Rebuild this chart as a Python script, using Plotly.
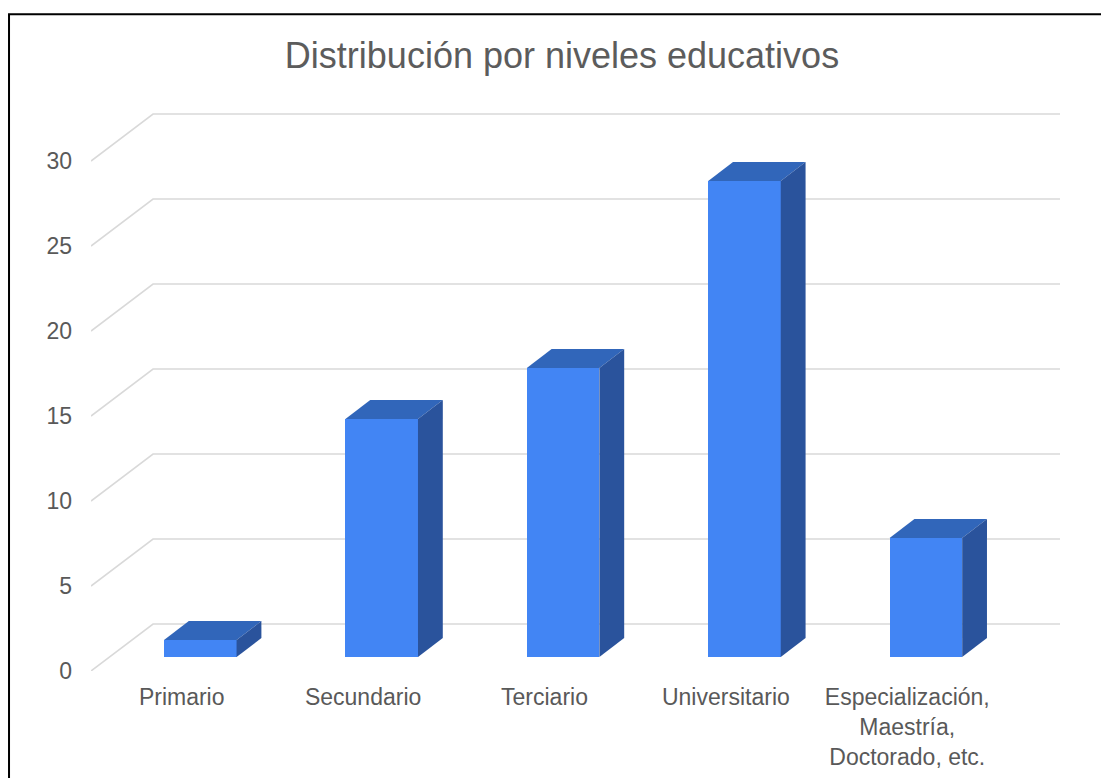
import plotly.graph_objects as go

# ---- data ----
categories = ["Primario", "Secundario", "Terciario", "Universitario",
              "Especialización,<br>Maestría,<br>Doctorado, etc."]
values = [1, 14, 17, 28, 7]
y_ticks = [0, 5, 10, 15, 20, 25, 30]
title_text = "Distribución por niveles educativos"

# ---- 3D projection settings (axis units) ----
DDX = 0.342      # x shift for full depth (category units)
DDY = 2.765      # y shift for full depth (value units)
D0, D1 = 0.3, 0.7  # bar depth span
BW = 0.40        # bar width

FRONT = "#4285F4"
TOP = "#3166BA"
SIDE = "#2A539C"
GRID = "#d9d9d9"
TXT = "#595959"

fig = go.Figure()

# gridlines in perspective (front-left diagonal then back plane)
shapes = []
for v in y_ticks:
    shapes.append(dict(
        type="path", xref="x", yref="y", layer="below",
        path=f"M {-0.5} {v} L {-0.5 + DDX} {v + DDY} L {4.5 + DDX} {v + DDY}",
        line=dict(color=GRID, width=1.6)))

# outer black frame (extends beyond canvas on right/bottom)
shapes.append(dict(type="rect", xref="paper", yref="paper",
                   x0=-0.0846, x1=1.2, y0=-0.4, y1=1.1706,
                   line=dict(color="black", width=2), fillcolor="rgba(0,0,0,0)"))

xs = [i + D0 * DDX for i in range(len(values))]
base = D0 * DDY
dep = (D1 - D0)

# front faces
fig.add_trace(go.Bar(x=xs, y=values, base=[base] * len(values), width=BW,
                     marker=dict(color=FRONT, line=dict(width=0)),
                     hoverinfo="skip", showlegend=False))

# top and side faces
for x, v in zip(xs, values):
    xl, xr = x - BW / 2, x + BW / 2
    top = base + v
    tx = [xl, xr, xr + dep * DDX, xl + dep * DDX, xl]
    ty = [top, top, top + dep * DDY, top + dep * DDY, top]
    fig.add_trace(go.Scatter(x=tx, y=ty, fill="toself", fillcolor=TOP,
                             mode="lines", line=dict(width=0, color=TOP),
                             hoverinfo="skip", showlegend=False))
    sx = [xr, xr, xr + dep * DDX, xr + dep * DDX, xr]
    sy = [base, top, top + dep * DDY, base + dep * DDY, base]
    fig.add_trace(go.Scatter(x=sx, y=sy, fill="toself", fillcolor=SIDE,
                             mode="lines", line=dict(width=0, color=SIDE),
                             hoverinfo="skip", showlegend=False))

fig.update_layout(
    width=1101, height=778, autosize=False,
    margin=dict(l=91, r=41, t=110, b=107),
    paper_bgcolor="white", plot_bgcolor="white",
    font=dict(family="Liberation Sans, Arial, sans-serif", color=TXT, size=23),
    title=dict(text=title_text, xref="container", yref="container",
               x=562 / 1101, y=1 - 55 / 778, xanchor="center", yanchor="middle",
               font=dict(size=36, color="#5c5c5c")),
    shapes=shapes,
    xaxis=dict(range=[-0.5, 4.5 + DDX], showgrid=False, zeroline=False,
               showline=False, tickmode="array", automargin=False,
               tickvals=list(range(len(categories))), ticktext=categories,
               ticks="", ticklabelstandoff=10, fixedrange=True,
               tickfont=dict(size=23, color=TXT)),
    yaxis=dict(range=[0, 33], showgrid=False, zeroline=False, showline=False,
               tickmode="array", tickvals=y_ticks, automargin=False,
               ticktext=[str(t) for t in y_ticks],
               ticks="", ticklabelstandoff=18, fixedrange=True,
               tickfont=dict(size=23, color=TXT)),
    bargap=0,
)

fig.write_html("out.html")
